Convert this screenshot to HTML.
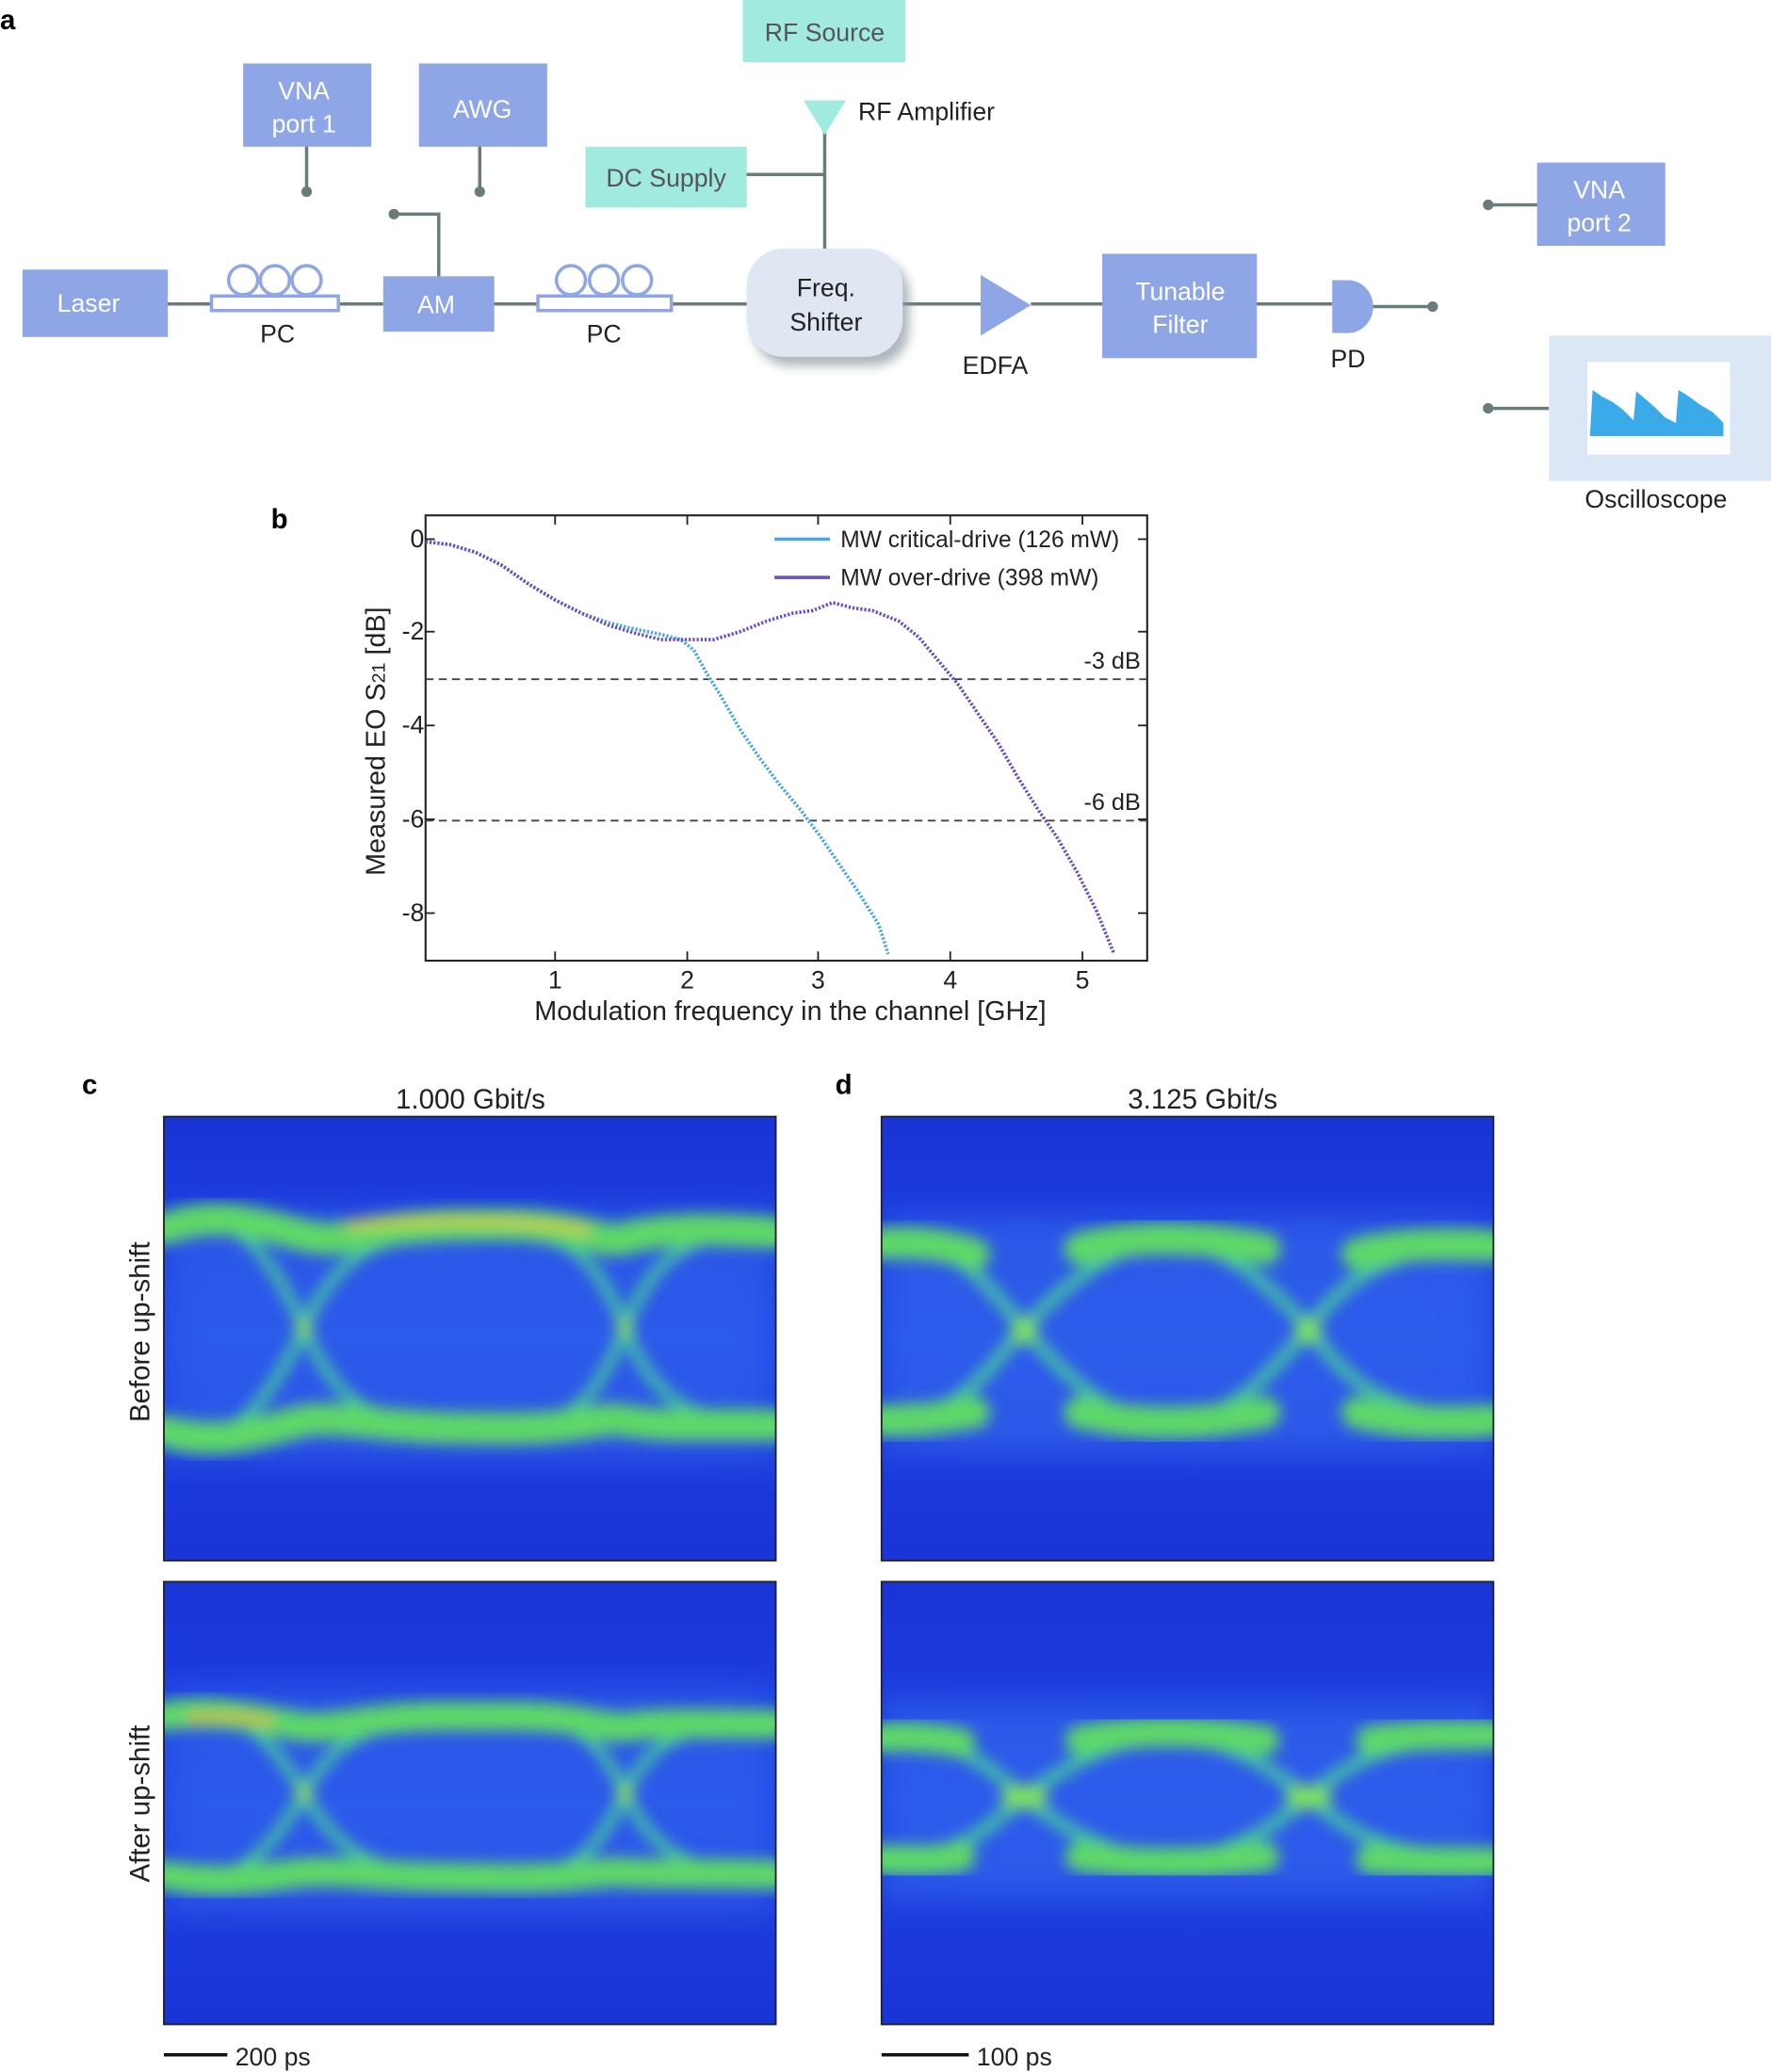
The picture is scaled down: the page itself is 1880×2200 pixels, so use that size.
<!DOCTYPE html>
<html><head><meta charset="utf-8"><style>html,body{margin:0;padding:0;background:#fff}svg{display:block}</style></head><body>
<svg width="1880" height="2200" viewBox="0 0 1340 1568" xmlns="http://www.w3.org/2000/svg" font-family="Liberation Sans, sans-serif">
<defs>
<filter id="bl" x="-10%" y="-10%" width="120%" height="120%"><feGaussianBlur stdDeviation="5.5"/></filter>
<filter id="bl2" x="-10%" y="-10%" width="120%" height="120%"><feGaussianBlur stdDeviation="12"/></filter>
<filter id="sh" x="-30%" y="-30%" width="160%" height="160%"><feGaussianBlur stdDeviation="4"/></filter>
<clipPath id="cp"><rect width="463" height="336"/></clipPath>
<linearGradient id="bg" x1="0" y1="0" x2="0" y2="1">
<stop offset="0" stop-color="#1a34d6"/><stop offset="0.5" stop-color="#1e44e6"/><stop offset="1" stop-color="#1a34d6"/></linearGradient>
</defs>
<rect width="1340" height="1568" fill="#fff"/>
<!-- ===== panel a ===== -->
<text x="0" y="22" font-size="21" font-weight="bold">a</text>
<g stroke="#6b7b7b" stroke-width="2.5" fill="none">
<line x1="126" y1="230" x2="160" y2="230"/><line x1="256" y1="230" x2="290" y2="230"/>
<line x1="373" y1="230" x2="407" y2="230"/><line x1="508" y1="230" x2="568" y2="230"/>
<line x1="682" y1="230" x2="742" y2="230"/><line x1="780" y1="230" x2="836" y2="230"/>
<line x1="950" y1="230" x2="1008" y2="230"/><line x1="1038" y1="232" x2="1084" y2="232"/>
<line x1="232" y1="110" x2="232" y2="145"/><line x1="363" y1="110" x2="363" y2="145"/>
<polyline points="298,162 332,162 332,210"/>
<line x1="624" y1="100" x2="624" y2="190"/><line x1="564" y1="132" x2="624" y2="132"/>
<line x1="1126" y1="155" x2="1164" y2="155"/><line x1="1126" y1="309" x2="1172" y2="309"/>
</g>
<g fill="#6b7b7b"><circle cx="232" cy="145" r="4"/><circle cx="363" cy="145" r="4"/><circle cx="298" cy="162" r="4"/><circle cx="1084" cy="232" r="4"/><circle cx="1126" cy="155" r="4"/><circle cx="1126" cy="309" r="4"/></g>
<g fill="#8fa6e6">
<rect x="17" y="204" width="110" height="51"/><rect x="290" y="209" width="84" height="42"/>
<rect x="184" y="48" width="97" height="63"/><rect x="317" y="48" width="97" height="63"/>
<rect x="834" y="192" width="117" height="79"/><rect x="1163" y="123" width="97" height="63"/>
<polygon points="742,208 780,231 742,254"/>
<path d="M1008,212 H1020 A19,20 0 0 1 1020,252 H1008 Z"/>
</g>
<g fill="#a0eadf"><rect x="562" y="0" width="123" height="47"/><rect x="443" y="111" width="122" height="46"/><polygon points="608,76 640,76 624,102"/></g>
<rect x="570" y="195" width="118" height="82" rx="28" fill="#8a9aa0" filter="url(#sh)" opacity="0.7"/>
<rect x="565" y="188" width="118" height="82" rx="28" fill="#dfe7f3"/>
<g fill="none" stroke="#8fa6e6" stroke-width="2.5">
<rect x="160" y="224" width="96" height="11"/><circle cx="184" cy="212" r="11"/><circle cx="208" cy="212" r="11"/><circle cx="232" cy="212" r="11"/>
<rect x="407" y="224" width="101" height="11"/><circle cx="432" cy="212" r="11"/><circle cx="457" cy="212" r="11"/><circle cx="482" cy="212" r="11"/>
</g>
<rect x="1172" y="254" width="168" height="110" fill="#dbe7f6"/>
<rect x="1201" y="274" width="108" height="70" fill="#fff"/>
<path d="M1203,330 L1205,295 1212,300 1220,304 1228,310 1236,318 1238,296 1245,302 1252,308 1260,316 1268,320 1270,295 1278,300 1286,306 1296,312 1304,320 L1304,330 Z" fill="#3aaae8"/>
<g font-size="19" fill="#fff" text-anchor="middle">
<text x="67" y="236">Laser</text><text x="330" y="237">AM</text>
<text x="230" y="75">VNA</text><text x="230" y="100">port 1</text><text x="365" y="89">AWG</text>
<text x="893" y="227">Tunable</text><text x="893" y="252">Filter</text>
<text x="1210" y="150">VNA</text><text x="1210" y="175">port 2</text>
</g>
<g font-size="19" fill="#555" text-anchor="middle"><text x="624" y="31">RF Source</text><text x="504" y="141">DC Supply</text></g>
<g font-size="19" fill="#222" text-anchor="middle">
<text x="625" y="224">Freq.</text><text x="625" y="250">Shifter</text>
<text x="210" y="259">PC</text><text x="457" y="259">PC</text><text x="753" y="283">EDFA</text><text x="1020" y="278">PD</text>
<text x="1253" y="384">Oscilloscope</text><text x="701" y="91">RF Amplifier</text>
</g>
<!-- ===== panel b ===== -->
<text x="205" y="400" font-size="21" font-weight="bold">b</text>
<rect x="322" y="390" width="546" height="337" fill="none" stroke="#222" stroke-width="1.5"/>
<g stroke="#222" stroke-width="1.3">
<line x1="420" y1="727" x2="420" y2="720"/><line x1="520" y1="727" x2="520" y2="720"/><line x1="619" y1="727" x2="619" y2="720"/><line x1="719" y1="727" x2="719" y2="720"/><line x1="819" y1="727" x2="819" y2="720"/>
<line x1="420" y1="390" x2="420" y2="397"/><line x1="520" y1="390" x2="520" y2="397"/><line x1="619" y1="390" x2="619" y2="397"/><line x1="719" y1="390" x2="719" y2="397"/><line x1="819" y1="390" x2="819" y2="397"/>
<line x1="322" y1="408" x2="329" y2="408"/><line x1="322" y1="478" x2="329" y2="478"/><line x1="322" y1="549" x2="329" y2="549"/><line x1="322" y1="620" x2="329" y2="620"/><line x1="322" y1="691" x2="329" y2="691"/>
<line x1="868" y1="408" x2="861" y2="408"/><line x1="868" y1="478" x2="861" y2="478"/><line x1="868" y1="549" x2="861" y2="549"/><line x1="868" y1="620" x2="861" y2="620"/><line x1="868" y1="691" x2="861" y2="691"/>
</g>
<g stroke="#444" stroke-width="1.3" stroke-dasharray="6 4"><line x1="322" y1="514" x2="868" y2="514"/><line x1="322" y1="621" x2="868" y2="621"/></g>
<g font-size="18" fill="#222"><text x="820" y="506">-3 dB</text><text x="820" y="613">-6 dB</text></g>
<g font-size="19" fill="#222" text-anchor="end"><text x="321" y="414">0</text><text x="321" y="484">-2</text><text x="321" y="555">-4</text><text x="321" y="626">-6</text><text x="321" y="697">-8</text></g>
<g font-size="19" fill="#222" text-anchor="middle"><text x="420" y="748">1</text><text x="520" y="748">2</text><text x="619" y="748">3</text><text x="719" y="748">4</text><text x="819" y="748">5</text>
<text x="598" y="772" font-size="20.5">Modulation frequency in the channel [GHz]</text></g>
<text transform="translate(291,561) rotate(-90)" font-size="20.5" fill="#222" text-anchor="middle">Measured EO S<tspan font-size="14">21</tspan> [dB]</text>
<g fill="none" stroke-width="2.6" stroke-dasharray="1.6 1.4">
<polyline stroke="#4aa6e0" points="322,410 340,412 360,418 380,428 400,442 420,454 440,464 460,471 480,476 500,480 515,484 525,492 535,510 545,526 560,552 575,574 590,594 605,612 620,632 635,654 650,676 665,700 672,722"/>
<polyline stroke="#6a4cc0" points="322,410 340,412 360,418 380,428 400,442 420,454 440,464 460,473 480,479 500,484 520,484 540,484 560,478 580,470 600,464 615,462 630,456 645,460 660,462 680,470 695,482 710,500 725,518 740,540 755,562 770,588 785,612 800,634 815,660 830,690 843,722"/>
</g>
<line x1="586" y1="408" x2="628" y2="408" stroke="#4aa6e0" stroke-width="2.5"/><line x1="586" y1="437" x2="628" y2="437" stroke="#6a4cc0" stroke-width="2.5"/>
<g font-size="17.5" fill="#222"><text x="636" y="414">MW critical-drive (126 mW)</text><text x="636" y="443">MW over-drive (398 mW)</text></g>
<!-- ===== panels c,d ===== -->
<text x="62" y="828" font-size="21" font-weight="bold">c</text>
<text x="632" y="828" font-size="21" font-weight="bold">d</text>
<g font-size="21" fill="#222" text-anchor="middle"><text x="356" y="839">1.000 Gbit/s</text><text x="910" y="839">3.125 Gbit/s</text></g>
<text transform="translate(113,1008) rotate(-90)" font-size="21" fill="#222" text-anchor="middle">Before up-shift</text>
<text transform="translate(113,1365) rotate(-90)" font-size="21" fill="#222" text-anchor="middle">After up-shift</text>
<!-- c top -->
<g transform="translate(124,845)">
<g clip-path="url(#cp)">
<rect width="463" height="336" fill="url(#bg)"/>
<rect x="0" y="70" width="463" height="190" fill="#3a70f0" opacity="0.5" filter="url(#bl2)"/>
<g fill="none" stroke-linecap="round" filter="url(#bl)">
<path d="M0,85 C40,70 70,80 106,160 C140,240 180,230 240,232 C300,236 320,230 349,160 C375,90 420,85 463,90" stroke="#46c8a0" stroke-width="8"/>
<path d="M0,238 C40,255 70,235 106,160 C140,85 180,90 240,90 C300,88 320,92 349,160 C375,230 420,232 463,232" stroke="#46c8a0" stroke-width="8"/>
<path d="M0,85 C40,70 75,82 106,90 C140,98 150,82 240,82 C320,80 330,98 349,92 C380,84 420,85 463,88" stroke="#5ed868" stroke-width="24"/>
<path d="M0,238 C40,250 75,238 106,230 C140,226 160,236 240,236 C320,238 330,226 349,230 C380,236 420,232 463,234" stroke="#5ed868" stroke-width="24"/>
<path d="M140,82 C200,78 270,78 320,86" stroke="#d8c848" stroke-width="6"/>
<circle cx="106" cy="160" r="6" fill="#8ee050"/><circle cx="349" cy="160" r="6" fill="#8ee050"/>
</g></g>
<rect width="463" height="336" fill="none" stroke="#222" stroke-width="1.3"/>
</g>
<!-- c bottom -->
<g transform="translate(124,1197)">
<g clip-path="url(#cp)">
<rect width="463" height="335" fill="url(#bg)"/>
<rect x="0" y="80" width="463" height="170" fill="#3a70f0" opacity="0.5" filter="url(#bl2)"/>
<g fill="none" stroke-linecap="round" filter="url(#bl)">
<path d="M0,100 C40,90 70,100 106,160 C140,220 180,222 240,222 C300,224 320,220 349,160 C375,105 420,108 463,110" stroke="#46c8a0" stroke-width="8"/>
<path d="M0,224 C40,232 70,222 106,160 C140,100 180,108 240,108 C300,106 320,100 349,160 C375,218 420,222 463,222" stroke="#46c8a0" stroke-width="8"/>
<path d="M0,102 C40,95 75,105 106,110 C140,112 150,100 240,102 C320,100 330,112 349,110 C380,106 420,108 463,108" stroke="#5ed868" stroke-width="22"/>
<path d="M0,222 C40,230 75,224 106,220 C140,218 160,224 240,224 C320,226 330,218 349,220 C380,222 420,220 463,222" stroke="#5ed868" stroke-width="22"/>
<path d="M20,104 C50,100 70,104 80,106" stroke="#d8b048" stroke-width="6"/>
<circle cx="106" cy="160" r="6" fill="#8ee050"/><circle cx="349" cy="160" r="6" fill="#8ee050"/>
</g></g>
<rect width="463" height="335" fill="none" stroke="#222" stroke-width="1.3"/>
</g>
<!-- d top -->
<g transform="translate(667,845)">
<g clip-path="url(#cp)">
<rect width="463" height="336" fill="url(#bg)"/>
<rect x="0" y="75" width="463" height="180" fill="#3a70f0" opacity="0.55" filter="url(#bl2)"/>
<g fill="none" stroke-linecap="round" filter="url(#bl)">
<path d="M0,95 C60,92 80,130 108,160 C140,200 180,232 215,232 C260,232 290,200 323,160 C350,125 380,98 463,98" stroke="#46c8a0" stroke-width="9"/>
<path d="M0,230 C60,230 80,190 108,160 C140,125 180,95 215,95 C260,95 290,125 323,160 C350,198 380,228 463,228" stroke="#46c8a0" stroke-width="9"/>
<path d="M0,96 C40,94 55,100 70,104 M150,100 C190,90 240,90 290,100 M360,104 C390,96 430,96 463,98" stroke="#5ed868" stroke-width="24"/>
<path d="M0,230 C40,230 55,226 70,224 M150,224 C190,234 240,234 290,224 M360,224 C390,232 430,232 463,230" stroke="#5ed868" stroke-width="24"/>
<circle cx="108" cy="162" r="10" fill="#7ee060"/><circle cx="323" cy="162" r="10" fill="#7ee060"/>
</g></g>
<rect width="463" height="336" fill="none" stroke="#222" stroke-width="1.3"/>
</g>
<!-- d bottom -->
<g transform="translate(667,1197)">
<g clip-path="url(#cp)">
<rect width="463" height="335" fill="url(#bg)"/>
<rect x="0" y="90" width="463" height="150" fill="#3a70f0" opacity="0.55" filter="url(#bl2)"/>
<g fill="none" stroke-linecap="round" filter="url(#bl)">
<path d="M0,118 C60,118 80,140 108,163 C140,190 180,210 215,210 C260,210 290,190 323,163 C350,140 380,118 463,118" stroke="#46c8a0" stroke-width="9"/>
<path d="M0,210 C60,210 80,185 108,163 C140,138 180,118 215,118 C260,118 290,138 323,163 C350,186 380,210 463,210" stroke="#46c8a0" stroke-width="9"/>
<path d="M0,118 C30,116 50,120 60,122 M150,120 C190,112 240,112 290,120 M370,120 C400,116 430,116 463,116" stroke="#5ed868" stroke-width="22"/>
<path d="M0,210 C30,212 50,210 60,208 M150,208 C190,214 240,214 290,208 M370,210 C400,212 430,212 463,212" stroke="#5ed868" stroke-width="22"/>
<ellipse cx="108" cy="163" rx="18" ry="9" fill="#7ee060"/><ellipse cx="323" cy="163" rx="18" ry="9" fill="#7ee060"/>
</g></g>
<rect width="463" height="335" fill="none" stroke="#222" stroke-width="1.3"/>
</g>
<g stroke="#111" stroke-width="2.5"><line x1="124" y1="1555" x2="172" y2="1555"/><line x1="667" y1="1555" x2="733" y2="1555"/></g>
<g font-size="19" fill="#222"><text x="178" y="1563">200 ps</text><text x="739" y="1563">100 ps</text></g>
</svg>
</body></html>
